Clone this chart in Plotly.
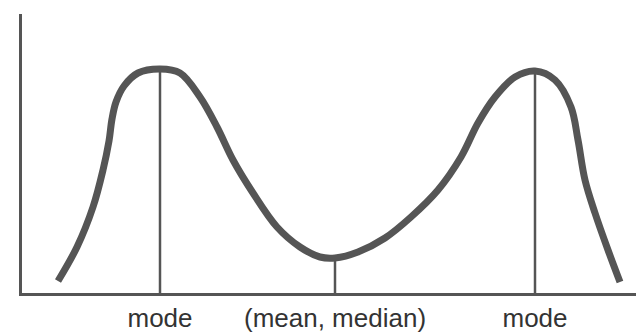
import plotly.graph_objects as go

# Curve: horizontal position and height above the baseline
curve_x = [58, 77, 93, 103, 109, 112, 116, 124, 138, 160, 180, 200, 217, 233, 253, 277, 300, 320,
           335, 358, 385, 411, 438, 461, 478, 495, 515, 535, 555, 571, 578, 585, 595, 608, 620]
curve_y = [12, 46, 86, 123, 152, 174, 191, 207, 220, 224, 220, 196, 166, 133, 100, 66, 46, 36,
           35, 41, 55, 76, 103, 136, 170, 196, 216, 222, 213, 186, 153, 113, 80, 43, 11]

marker_x = [160, 335, 535]
marker_h = [222, 33, 220]
marker_labels = ["mode", "(mean, median)", "mode"]

INK = "#555555"

fig = go.Figure()
fig.add_trace(go.Scatter(x=curve_x, y=curve_y, mode="lines",
                         line=dict(color=INK, width=7, shape="spline", smoothing=1.0),
                         hoverinfo="skip"))
for mx, mh in zip(marker_x, marker_h):
    fig.add_trace(go.Scatter(x=[mx, mx], y=[0, mh], mode="lines",
                             line=dict(color=INK, width=2.5), hoverinfo="skip"))

fig.update_layout(
    width=638, height=333,
    margin=dict(l=22, r=2, t=14, b=40),
    paper_bgcolor="white", plot_bgcolor="white",
    showlegend=False,
    font=dict(family="Liberation Sans, Arial, sans-serif", size=26, color="#333333"),
)
fig.update_xaxes(range=[22, 636], showgrid=False, zeroline=False,
                 showline=True, linecolor=INK, linewidth=3,
                 tickmode="array", tickvals=marker_x, ticktext=marker_labels,
                 ticks="", ticklen=0, fixedrange=True, automargin=False)
fig.update_yaxes(range=[0, 279], showgrid=False, zeroline=False,
                 showline=True, linecolor=INK, linewidth=3,
                 showticklabels=False, ticks="", fixedrange=True, automargin=False)

fig.write_html("out.html",
               config={"displayModeBar": False, "staticPlot": True},
               post_script="document.body.style.margin='0';document.body.style.overflow='hidden';")
